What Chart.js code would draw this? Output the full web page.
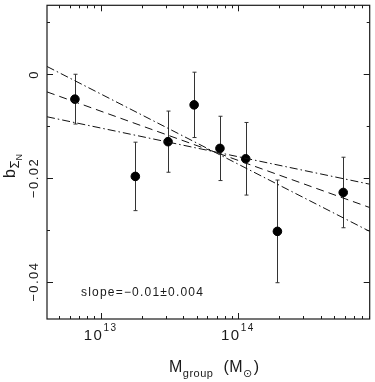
<!DOCTYPE html>
<html>
<head>
<meta charset="utf-8">
<script src="https://cdn.jsdelivr.net/npm/chart.js@4.4.1/dist/chart.umd.min.js"></script>
<style>
  html, body { margin: 0; padding: 0; background: #fff; }
  #wrap { width: 375px; height: 382px; }
</style>
</head>
<body>
<div id="wrap"><canvas id="biasChart"></canvas></div>
<script>
// group mass bins (Msun) and measured bias slope b_SigmaN
const groupMass = [6.5e12, 1.79e13, 3.1e13, 4.8e13, 7.4e13, 1.14e14, 1.94e14, 5.85e14];
const biasValues = [-0.0048, -0.0197, -0.0130, -0.0059, -0.0143, -0.0163, -0.0303, -0.0228];
const biasErrors = [0.0048, 0.0066, 0.0059, 0.0063, 0.0062, 0.0070, 0.0099, 0.0068];

// fit line and its 1-sigma envelope, values at the two ends of the mass range
const fitMass = [4.07e12, 9.12e14];
const fitCentral = [-0.0034, -0.0257];
const fitSteep = [0.0015, -0.0303];
const fitShallow = [-0.0082, -0.0212];

// axis ticks
const yTickValues = [0.01, 0, -0.01, -0.02, -0.03, -0.04];
const yTickLabels = ['0', '−0.02', '−0.04'];
const yLabelValues = [0, -0.02, -0.04];
const xDecades = [13, 14];
const slopeText = 'slope=−0.01±0.004';

const FONT = '"Liberation Sans", Arial, Helvetica, sans-serif';
const INK = '#1a1a1a';

function pts(xs, ys) {
    return xs.map((v, i) => ({ x: v, y: ys[i] }));
}

const framePlugin = {
    id: 'frame',
    beforeDatasetsDraw(chart) {
        const ctx = chart.ctx;
        const xs = chart.scales.x, ys = chart.scales.y;
        ctx.save();
        ctx.strokeStyle = '#333';
        ctx.lineWidth = 1;
        groupMass.forEach((m, i) => {
            const px = Math.round(xs.getPixelForValue(m)) + 0.5;
            const top = ys.getPixelForValue(biasValues[i] + biasErrors[i]);
            const bot = ys.getPixelForValue(biasValues[i] - biasErrors[i]);
            ctx.beginPath();
            ctx.moveTo(px, top); ctx.lineTo(px, bot);
            ctx.moveTo(px - 2, top); ctx.lineTo(px + 2, top);
            ctx.moveTo(px - 2, bot); ctx.lineTo(px + 2, bot);
            ctx.stroke();
        });
        ctx.restore();
    },
    afterDraw(chart) {
        const ctx = chart.ctx;
        const a = chart.chartArea;
        const xs = chart.scales.x, ys = chart.scales.y;
        ctx.save();
        ctx.strokeStyle = INK;
        ctx.lineWidth = 1.2;
        ctx.strokeRect(a.left, a.top, a.right - a.left, a.bottom - a.top);

        // y ticks, inside on both sides
        ctx.lineWidth = 1;
        ctx.beginPath();
        yTickValues.forEach(v => {
            const py = Math.round(ys.getPixelForValue(v)) + 0.5;
            const len = yLabelValues.some(l => Math.abs(l - v) < 1e-9) ? 6 : 3;
            ctx.moveTo(a.left, py); ctx.lineTo(a.left + len, py);
            ctx.moveTo(a.right, py); ctx.lineTo(a.right - len, py);
        });
        // x ticks (log), inside top and bottom
        for (let k = 12; k <= 14; k++) {
            for (let d = 1; d <= 9; d++) {
                const v = d * Math.pow(10, k);
                if (v < xs.min || v > xs.max) continue;
                const px = Math.round(xs.getPixelForValue(v)) + 0.5;
                const len = d === 1 ? 6 : 3;
                ctx.moveTo(px, a.bottom); ctx.lineTo(px, a.bottom - len);
                ctx.moveTo(px, a.top); ctx.lineTo(px, a.top + len);
            }
        }
        ctx.stroke();

        ctx.fillStyle = INK;
        ctx.letterSpacing = '1.5px';

        // y tick labels, rotated
        ctx.font = '13px ' + FONT;
        ctx.textAlign = 'center';
        ctx.textBaseline = 'alphabetic';
        yLabelValues.forEach((v, i) => {
            const py = ys.getPixelForValue(v);
            ctx.save();
            ctx.translate(38, py);
            ctx.rotate(-Math.PI / 2);
            ctx.fillText(yTickLabels[i], 0, 0);
            ctx.restore();
        });

        // x tick labels 10^k
        xDecades.forEach(k => {
            const px = xs.getPixelForValue(Math.pow(10, k));
            ctx.font = '15px ' + FONT;
            const wBase = ctx.measureText('10').width;
            ctx.font = '10px ' + FONT;
            const wExp = ctx.measureText(String(k)).width;
            const x0 = px - (wBase + wExp) / 2;
            ctx.textAlign = 'left';
            ctx.font = '15px ' + FONT;
            ctx.fillText('10', x0, 340);
            ctx.font = '10px ' + FONT;
            ctx.fillText(String(k), x0 + wBase, 331);
        });

        // slope annotation
        ctx.letterSpacing = '1.2px';
        ctx.font = '12px ' + FONT;
        ctx.textAlign = 'left';
        ctx.fillText(slopeText, 81, 296);

        // x axis title: M_group (M_sun)
        ctx.letterSpacing = '0.5px';
        let x = 169;
        ctx.font = '16px ' + FONT;
        ctx.fillText('M', x, 372);
        x += ctx.measureText('M').width;
        ctx.font = '11px ' + FONT;
        ctx.fillText('group', x, 377);
        x += ctx.measureText('group').width + 10;
        ctx.font = '16px ' + FONT;
        ctx.fillText('(M', x, 372);
        x += ctx.measureText('(M').width;
        ctx.font = '11px "DejaVu Sans", ' + FONT;
        ctx.fillText('⊙', x, 377);
        x += ctx.measureText('⊙').width + 1;
        ctx.font = '16px ' + FONT;
        ctx.fillText(')', x, 372);

        // y axis title: b_{Sigma_N}, rotated
        ctx.save();
        ctx.translate(15, 178);
        ctx.rotate(-Math.PI / 2);
        ctx.letterSpacing = '0px';
        ctx.font = '16px ' + FONT;
        ctx.fillText('b', 0, 0);
        let t = ctx.measureText('b').width + 0.5;
        ctx.font = '13px ' + FONT;
        ctx.fillText('Σ', t, 4);
        t += ctx.measureText('Σ').width;
        ctx.font = '9px ' + FONT;
        ctx.fillText('N', t, 7);
        ctx.restore();

        ctx.restore();
    }
};

const ctx = document.getElementById('biasChart').getContext('2d');
const chart = new Chart(ctx, {
    type: 'scatter',
    data: {
        datasets: [
            {
                label: 'fit',
                data: pts(fitMass, fitCentral),
                showLine: true,
                borderColor: '#111',
                borderWidth: 1,
                borderDash: [8, 5],
                pointRadius: 0
            },
            {
                label: 'fit upper',
                data: pts(fitMass, fitSteep),
                showLine: true,
                borderColor: '#111',
                borderWidth: 1,
                borderDash: [8, 3, 1.5, 3],
                pointRadius: 0
            },
            {
                label: 'fit lower',
                data: pts(fitMass, fitShallow),
                showLine: true,
                borderColor: '#111',
                borderWidth: 1,
                borderDash: [8, 3, 1.5, 3],
                pointRadius: 0
            },
            {
                label: 'b_SigmaN',
                data: pts(groupMass, biasValues),
                backgroundColor: '#000',
                borderColor: '#000',
                pointRadius: 4.3,
                pointHoverRadius: 4.3
            }
        ]
    },
    options: {
        responsive: true,
        maintainAspectRatio: false,
        animation: false,
        devicePixelRatio: 1,
        layout: { padding: { left: 47, right: 2, top: 1, bottom: 63 } },
        plugins: {
            legend: { display: false },
            tooltip: { enabled: false }
        },
        scales: {
            x: {
                type: 'logarithmic',
                min: fitMass[0],
                max: fitMass[1],
                grid: { display: false },
                border: { display: false },
                ticks: { display: false },
                afterFit: s => { s.height = 0; }
            },
            y: {
                min: -0.0472,
                max: 0.0133,
                grid: { display: false },
                border: { display: false },
                ticks: { display: false },
                afterFit: s => { s.width = 0; }
            }
        }
    },
    plugins: [framePlugin]
});
</script>
</body>
</html>
